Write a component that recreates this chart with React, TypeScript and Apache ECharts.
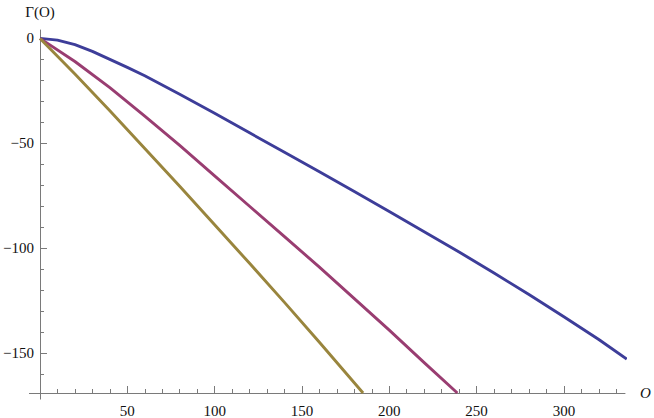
import React, { useEffect, useRef } from "react";
import * as echarts from "echarts";

const blueX = [0, 10, 20, 30, 40, 50, 60, 80, 100, 120, 140, 160, 180, 200, 220, 240, 260, 280, 300, 320, 336];
const blueY = [0, -0.8, -3, -6.2, -10, -13.8, -17.8, -26.6, -35.7, -45, -54.3, -63.6, -73, -82.5, -92.1, -101.8, -111.8, -122.1, -132.7, -143.5, -152.8];

const purpleX = [0, 20, 40, 60, 80, 100, 120, 140, 160, 180, 200, 220, 239];
const purpleY = [0, -11, -23.5, -37, -51, -65.5, -80, -94.5, -109, -124, -139, -154.5, -169];

const oliveX = [0, 20, 40, 60, 80, 100, 120, 140, 160, 185];
const oliveY = [0, -17, -34.5, -52.5, -70.5, -88.8, -107.2, -125.8, -144.8, -169];

const xMajorTicks = [50, 100, 150, 200, 250, 300];
const xMinorTicks = [10, 20, 30, 40, 60, 70, 80, 90, 110, 120, 130, 140, 160, 170, 180, 190, 210, 220, 230, 240, 260, 270, 280, 290, 310, 320, 330];
const yMajorTicks = [0, -50, -100, -150];
const yMinorTicks = [-10, -20, -30, -40, -60, -70, -80, -90, -110, -120, -130, -140, -160];

const X_MIN = 0;
const X_MAX = 335;
const Y_MIN = -169;
const Y_MAX = 4;

const AXIS_COLOR = "#7a7a7a";
const FONT = "Liberation Serif";

const zip = (xs: number[], ys: number[]) => xs.map((x, i) => [x, ys[i]]);
const fmt = (v: number) => (v < 0 ? "\u2212" + Math.abs(v) : String(v));

export default function App() {
  const ref = useRef<HTMLDivElement>(null);
  useEffect(() => {
    if (!ref.current) return;
    const chart = echarts.init(ref.current, undefined, { renderer: "svg" });
    const lineStyle = (color: string) => ({ color, width: 2.9, join: "round" });
    const common = { smooth: false, showSymbol: false, clip: false };
    chart.setOption({
      animation: false,
      backgroundColor: "#fff",
      textStyle: { fontFamily: FONT },
      grid: { left: 40, right: 29, top: 30, bottom: 25 },
      xAxis: [
        {
          type: "value",
          position: "bottom",
          min: X_MIN,
          max: X_MAX,
          axisLine: { show: true, onZero: false, lineStyle: { color: AXIS_COLOR, width: 1 } },
          axisTick: { show: true, inside: true, length: 7, customValues: xMajorTicks, lineStyle: { color: AXIS_COLOR } },
          axisLabel: { show: true, customValues: xMajorTicks, margin: 10, color: "#111", fontFamily: FONT, fontSize: 15 },
          splitLine: { show: false },
          name: "O",
          nameLocation: "end",
          nameGap: 15,
          nameTextStyle: { fontFamily: FONT, fontStyle: "italic", fontSize: 15, color: "#111", verticalAlign: "middle", align: "left" },
        },
        {
          type: "value",
          position: "bottom",
          min: X_MIN,
          max: X_MAX,
          axisLine: { show: false, onZero: false },
          axisTick: { show: true, inside: true, length: 4, customValues: xMinorTicks, lineStyle: { color: AXIS_COLOR } },
          axisLabel: { show: false },
          splitLine: { show: false },
        },
      ],
      yAxis: [
        {
          type: "value",
          position: "left",
          min: Y_MIN,
          max: Y_MAX,
          axisLine: { show: true, onZero: false, lineStyle: { color: AXIS_COLOR, width: 1 } },
          axisTick: { show: true, inside: true, length: 7, customValues: yMajorTicks, lineStyle: { color: AXIS_COLOR } },
          axisLabel: { show: true, customValues: yMajorTicks, margin: 6, color: "#111", fontFamily: FONT, fontSize: 15, formatter: fmt },
          splitLine: { show: false },
          name: "\u0393(O)",
          nameLocation: "end",
          nameGap: 11,
          nameTextStyle: { fontFamily: FONT, fontSize: 15, color: "#111", align: "center", verticalAlign: "bottom" },
        },
        {
          type: "value",
          position: "left",
          min: Y_MIN,
          max: Y_MAX,
          axisLine: { show: false, onZero: false },
          axisTick: { show: true, inside: true, length: 4, customValues: yMinorTicks, lineStyle: { color: AXIS_COLOR } },
          axisLabel: { show: false },
          splitLine: { show: false },
        },
      ],
      graphic: [
        { type: "line", shape: { x1: 29, y1: 393.5, x2: 40.5, y2: 393.5 }, style: { stroke: AXIS_COLOR, lineWidth: 1 }, silent: true },
        { type: "line", shape: { x1: 40.5, y1: 393.5, x2: 40.5, y2: 399.5 }, style: { stroke: AXIS_COLOR, lineWidth: 1 }, silent: true },
      ],
      series: [
        { type: "line", data: zip(blueX, blueY), ...common, lineStyle: lineStyle("#3d3d99"), itemStyle: { color: "#3d3d99" } },
        { type: "line", data: zip(purpleX, purpleY), ...common, lineStyle: lineStyle("#993d71"), itemStyle: { color: "#993d71" } },
        { type: "line", data: zip(oliveX, oliveY), ...common, lineStyle: lineStyle("#99853d"), itemStyle: { color: "#99853d" } },
      ],
    });
    return () => chart.dispose();
  }, []);
  return <div ref={ref} style={{ position: "fixed", left: 0, top: 0, width: 654, height: 418 }} />;
}
